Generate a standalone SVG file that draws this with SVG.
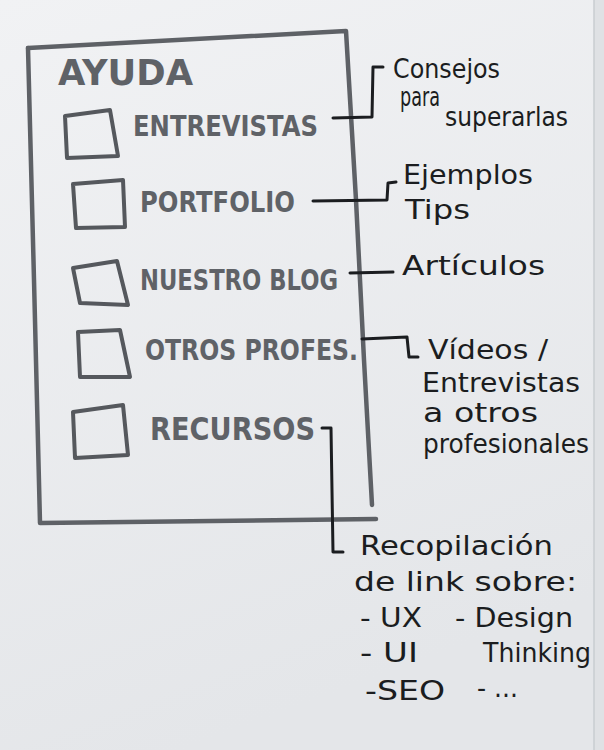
<svg xmlns="http://www.w3.org/2000/svg" width="604" height="750" viewBox="0 0 604 750">
<defs>
<linearGradient id="paper" x1="0" y1="0" x2="0.3" y2="1">
<stop offset="0" stop-color="#f1f2f4"/>
<stop offset="1" stop-color="#e4e6e9"/>
</linearGradient>
</defs>
<style>
.frame{fill:none;stroke:#5e6166;stroke-width:4.5;stroke-linecap:round;stroke-linejoin:round}
.box{fill:none;stroke:#55585d;stroke-width:4;stroke-linecap:round;stroke-linejoin:round}
.lbl{font-family:"DejaVu Sans",sans-serif;font-weight:bold;fill:#5f6267}
.conn{fill:none;stroke:#1b1d20;stroke-width:3;stroke-linecap:round;stroke-linejoin:round}
.note{font-family:"DejaVu Sans",sans-serif;fill:#1b1d20;font-size:26px}
</style>
<rect width="604" height="750" fill="url(#paper)"/>
<rect x="594" y="0" width="10" height="750" fill="#dfe1e4"/>
<line x1="594" y1="0" x2="594" y2="750" stroke="#c9ccd0" stroke-width="1.5"/>

<g id="frame">
<path class="frame" d="M28,48 L346,31 L356,200 L364,360 L372,505"/>
<path class="frame" d="M28,48 L34,280 L40,523 L376,519"/>
<text class="lbl" x="58" y="85" font-size="36" textLength="135" lengthAdjust="spacingAndGlyphs">AYUDA</text>
</g>

<g id="entrevistas">
<path class="box" d="M65,116 L110,110 L118,156 L67,158 Z"/>
<text class="lbl" x="133" y="136" font-size="28" textLength="185" lengthAdjust="spacingAndGlyphs">ENTREVISTAS</text>
</g>
<g id="portfolio">
<path class="box" d="M73,184 L123,180 L125,227 L76,228 Z"/>
<text class="lbl" x="140" y="212" font-size="28" textLength="155" lengthAdjust="spacingAndGlyphs">PORTFOLIO</text>
</g>
<g id="nuestro-blog">
<path class="box" d="M73,268 L117,261 L128,305 L80,303 Z"/>
<text class="lbl" x="140" y="290" font-size="28" textLength="198" lengthAdjust="spacingAndGlyphs">NUESTRO BLOG</text>
</g>
<g id="otros-profes">
<path class="box" d="M78,332 L120,330 L130,377 L80,377 Z"/>
<text class="lbl" x="145" y="360" font-size="28" textLength="213" lengthAdjust="spacingAndGlyphs">OTROS PROFES.</text>
</g>
<g id="recursos">
<path class="box" d="M73,412 L123,405 L128,455 L75,458 Z"/>
<text class="lbl" x="150" y="440" font-size="32" textLength="165" lengthAdjust="spacingAndGlyphs">RECURSOS</text>
</g>

<g id="connectors">
<path class="conn" d="M333,118 L372,117 L373,67 L383,67"/>
<path class="conn" d="M313,201 L387,200 L388,183 L396,182"/>
<path class="conn" d="M350,273 L393,272"/>
<path class="conn" d="M362,339 L407,337 L409,357 L418,357"/>
<path class="conn" d="M322,428 L331,428 L333,552 L343,552"/>
</g>

<g id="note-entrevistas">
<text class="note" x="393" y="78" textLength="107" lengthAdjust="spacingAndGlyphs">Consejos</text>
<text class="note" x="400" y="106" font-size="15" textLength="40" lengthAdjust="spacingAndGlyphs">para</text>
<text class="note" x="445" y="126" textLength="123" lengthAdjust="spacingAndGlyphs">superarlas</text>
</g>
<g id="note-portfolio">
<text class="note" x="403" y="184" font-size="28" textLength="130" lengthAdjust="spacingAndGlyphs">Ejemplos</text>
<text class="note" x="405" y="219" font-size="28" textLength="65" lengthAdjust="spacingAndGlyphs">Tips</text>
</g>
<g id="note-blog">
<text class="note" x="402" y="275" font-size="28" textLength="143" lengthAdjust="spacingAndGlyphs">Artículos</text>
</g>
<g id="note-profes">
<text class="note" x="428" y="359" textLength="120" lengthAdjust="spacingAndGlyphs">Vídeos /</text>
<text class="note" x="422" y="392" textLength="158" lengthAdjust="spacingAndGlyphs">Entrevistas</text>
<text class="note" x="423" y="422" textLength="115" lengthAdjust="spacingAndGlyphs">a otros</text>
<text class="note" x="423" y="453" textLength="166" lengthAdjust="spacingAndGlyphs">profesionales</text>
</g>
<g id="note-recursos">
<text class="note" x="360" y="555" textLength="193" lengthAdjust="spacingAndGlyphs">Recopilación</text>
<text class="note" x="354" y="591" textLength="223" lengthAdjust="spacingAndGlyphs">de link sobre:</text>
<text class="note" x="360" y="627" textLength="62" lengthAdjust="spacingAndGlyphs">- UX</text>
<text class="note" x="455" y="627" textLength="118" lengthAdjust="spacingAndGlyphs">- Design</text>
<text class="note" x="360" y="662" textLength="58" lengthAdjust="spacingAndGlyphs">- UI</text>
<text class="note" x="483" y="662" textLength="108" lengthAdjust="spacingAndGlyphs">Thinking</text>
<text class="note" x="365" y="700" textLength="80" lengthAdjust="spacingAndGlyphs">-SEO</text>
<text class="note" x="477" y="697" font-size="22" textLength="41" lengthAdjust="spacingAndGlyphs">- ...</text>
</g>
</svg>
